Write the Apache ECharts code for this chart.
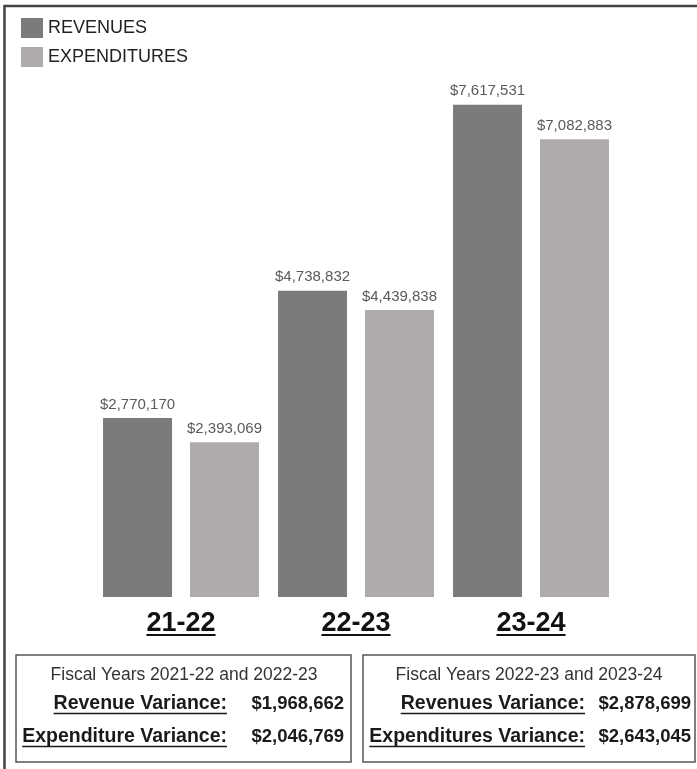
<!DOCTYPE html>
<html><head><meta charset="utf-8">
<script src="https://cdn.jsdelivr.net/npm/echarts@6/dist/echarts.min.js"></script>
<style>html,body{margin:0;padding:0;background:#fff}#c{width:697px;height:769px}</style>
</head><body><div id="c"></div>
<script>
const categories = ['21-22', '22-23', '23-24'];
const revenues = [2770170, 4738832, 7617531];
const expenditures = [2393069, 4439838, 7082883];
const seriesNames = ['REVENUES', 'EXPENDITURES'];
const box1Title = 'Fiscal Years 2021-22 and 2022-23';
const box1Labels = ['Revenue Variance:', 'Expenditure Variance:'];
const box1Values = ['$1,968,662', '$2,046,769'];
const box2Title = 'Fiscal Years 2022-23 and 2023-24';
const box2Labels = ['Revenues Variance:', 'Expenditures Variance:'];
const box2Values = ['$2,878,699', '$2,643,045'];

const FF = '"Liberation Sans", Arial, sans-serif';
const fmt = v => '$' + v.toLocaleString('en-US');
const chart = echarts.init(document.getElementById('c'), null, {renderer: 'canvas'});

function measure(text, font) {
  const cv = document.createElement('canvas').getContext('2d');
  cv.font = font;
  return cv.measureText(text).width;
}

const labelStyle = {show: true, position: 'top', distance: 6, color: '#5a5a5a', fontSize: 15, fontFamily: FF, formatter: p => fmt(p.value)};

chart.setOption({
  animation: false,
  backgroundColor: '#fff',
  legend: {
    orient: 'vertical', left: 16, top: 13, itemWidth: 22, itemHeight: 20, itemGap: 9,
    icon: 'rect', data: seriesNames,
    textStyle: {fontSize: 18, color: '#222', fontFamily: FF}
  },
  grid: {left: 93.5, right: 78.5, top: 80, bottom: 172},
  xAxis: {
    type: 'category', data: categories,
    axisLine: {show: false}, axisTick: {show: false},
    axisLabel: {margin: 13, fontSize: 27, fontWeight: 'bold', color: '#111', fontFamily: FF}
  },
  yAxis: {type: 'value', min: 0, max: 8000000, show: false, splitLine: {show: false}},
  series: [
    {name: seriesNames[0], type: 'bar', data: revenues, barWidth: 69, barGap: '26%', itemStyle: {color: '#7b7b7b'}, label: labelStyle},
    {name: seriesNames[1], type: 'bar', data: expenditures, barWidth: 69, itemStyle: {color: '#afabaa'}, label: labelStyle}
  ]
});

const g = [];
// outer border (left & top visible)
g.push({type: 'rect', shape: {x: 4.5, y: 6, width: 900, height: 900}, style: {fill: 'none', stroke: '#444', lineWidth: 2.5}, silent: true});
// underlines of category labels
const catFont = 'bold 27px ' + FF;
categories.forEach(c => {
  const cx = chart.convertToPixel({xAxisIndex: 0}, c);
  const w = measure(c, catFont);
  g.push({type: 'line', shape: {x1: cx - w / 2, y1: 635, x2: cx + w / 2, y2: 635}, style: {stroke: '#111', lineWidth: 2}, silent: true});
});

function box(x, w, title, titleX, labels, labelRight, values, valueX) {
  g.push({type: 'rect', shape: {x: x, y: 655, width: w, height: 107}, style: {fill: 'none', stroke: '#555', lineWidth: 1.5}});
  g.push({type: 'text', style: {text: title, x: titleX, y: 675, align: 'center', verticalAlign: 'middle', fontSize: 17.5, fontFamily: FF, fill: '#333'}});
  const ys = [704, 737];
  labels.forEach((t, i) => {
    const f = 'bold 19.5px ' + FF;
    const tw = measure(t, f);
    g.push({type: 'text', style: {text: t, x: labelRight, y: ys[i], align: 'right', verticalAlign: 'middle', fontSize: 19.5, fontWeight: 'bold', fontFamily: FF, fill: '#1a1a1a'}});
    g.push({type: 'line', shape: {x1: labelRight - tw, y1: ys[i] + 9.5, x2: labelRight, y2: ys[i] + 9.5}, style: {stroke: '#1a1a1a', lineWidth: 1.5}});
    g.push({type: 'text', style: {text: values[i], x: valueX, y: ys[i], align: 'right', verticalAlign: 'middle', fontSize: 18.5, fontWeight: 'bold', fontFamily: FF, fill: '#1a1a1a'}});
  });
}
box(16, 335, box1Title, 184, box1Labels, 227, box1Values, 344);
box(363, 332, box2Title, 529, box2Labels, 585, box2Values, 691);

chart.setOption({graphic: g});
</script>
</body></html>
